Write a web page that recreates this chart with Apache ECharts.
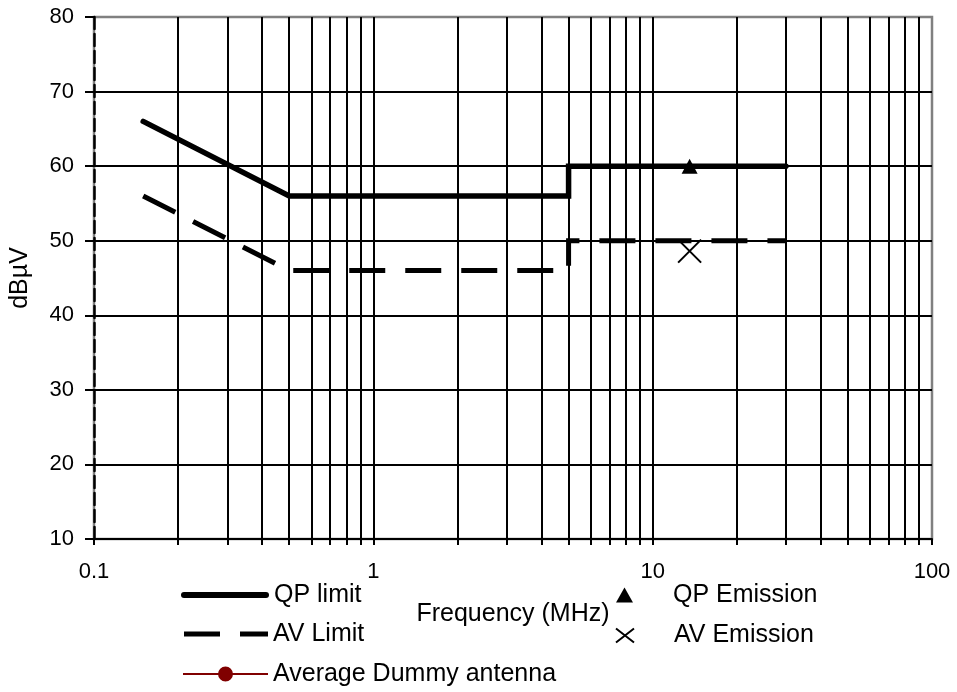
<!DOCTYPE html>
<html>
<head>
<meta charset="utf-8">
<script src="https://cdn.jsdelivr.net/npm/echarts@6/dist/echarts.min.js"></script>
<style>
html,body{margin:0;padding:0;background:#fff;}
#c{width:957px;height:692px;}
</style>
</head>
<body>
<div id="c"></div>
<script>
// ---- data ----
const freqRange = [0.1, 100];
const levelTicks = [10, 20, 30, 40, 50, 60, 70, 80];
const qpLimitFreq = [0.15, 0.5, 5, 5, 30];
const qpLimitLevel = [66, 56, 56, 60, 60];
const avLimitFreq = [0.15, 0.5, 5, 5, 30];
const avLimitLevel = [56, 46, 46, 50, 50];
const qpEmissionFreq = [13.56];
const qpEmissionLevel = [60];
const avEmissionFreq = [13.56];
const avEmissionLevel = [48.6];
const dummyFreq = [];
const dummyLevel = [];

const zip = (xs, ys) => xs.map((x, i) => [x, ys[i]]);
const FONT = 'Liberation Sans, Arial, sans-serif';
const txt = { fontSize: 25, color: '#000', fontFamily: FONT };

const chart = echarts.init(document.getElementById('c'), null, { renderer: 'canvas' });
const legendBase = {
  orient: 'horizontal', padding: 0, selectedMode: false,
  textStyle: txt, itemStyle: { borderWidth: 0, opacity: 1 }
};
chart.setOption({
  animation: false,
  backgroundColor: '#fff',
  grid: { left: 93, right: 25, top: 17, bottom: 153, show: true,
          borderColor: '#808080', borderWidth: 2.5, backgroundColor: 'transparent' },
  xAxis: {
    type: 'log', logBase: 10, min: freqRange[0], max: freqRange[1],
    name: 'Frequency (MHz)', nameLocation: 'middle', nameGap: 63,
    nameTextStyle: txt,
    axisLine: { show: true, lineStyle: { color: '#000', width: 2 } },
    axisTick: { show: true, inside: false, length: 6, lineStyle: { color: '#000', width: 2 } },
    minorTick: { show: true, splitNumber: 9, length: 6, lineStyle: { color: '#000', width: 2 } },
    splitLine: { show: true, showMinLine: false, showMaxLine: false, lineStyle: { color: '#000', width: 2 } },
    minorSplitLine: { show: true, lineStyle: { color: '#000', width: 2 } },
    axisLabel: { margin: 22, fontSize: 22, color: '#000', fontFamily: FONT }
  },
  yAxis: {
    type: 'value', min: levelTicks[0], max: levelTicks[levelTicks.length - 1], interval: 10,
    name: 'dBµV', nameLocation: 'middle', nameGap: 61,
    nameTextStyle: txt,
    axisLine: { show: true, lineStyle: { color: '#000', width: 2.5, type: [12, 5] } },
    axisTick: { show: true, inside: false, length: 9, lineStyle: { color: '#000', width: 2 } },
    splitLine: { show: true, showMinLine: false, showMaxLine: false, lineStyle: { color: '#000', width: 2 } },
    axisLabel: { margin: 20, fontSize: 22, color: '#000', fontFamily: FONT }
  },
  legend: [
    Object.assign({}, legendBase, { left: 181, top: 582.5, itemWidth: 88, itemHeight: 6,
      data: [{ name: 'QP limit', icon: 'path://M3,0H85A3,3 0 0 1 85,6H3A3,3 0 0 1 3,0Z' }] }),
    Object.assign({}, legendBase, { left: 184, top: 621.5, itemWidth: 84, itemHeight: 5,
      data: [{ name: 'AV Limit', icon: 'path://M0,0H36V5H0ZM56,0H84V5H56Z' }] }),
    Object.assign({}, legendBase, { left: 183, top: 661.5, itemWidth: 85, itemHeight: 15,
      data: [{ name: 'Average Dummy antenna', icon: 'path://M0,7H85V9H0ZM35,8A7.5,7.5 0 1 1 50,8A7.5,7.5 0 1 1 35,8Z' }] }),
    Object.assign({}, legendBase, { left: 616, top: 582.5, itemWidth: 17, itemHeight: 15, symbolKeepAspect: false,
      data: [{ name: 'QP Emission', icon: 'triangle' }],
      textStyle: Object.assign({}, txt, { padding: [0, 0, 0, 35] }) }),
    Object.assign({}, legendBase, { left: 615, top: 623, itemWidth: 18, itemHeight: 14, symbolKeepAspect: false,
      itemStyle: { borderWidth: 2, borderColor: '#000', opacity: 1 },
      data: ['AV Emission'],
      textStyle: Object.assign({}, txt, { padding: [0, 0, 0, 35] }) })
  ],
  series: [
    {
      name: 'QP limit', type: 'line', data: zip(qpLimitFreq, qpLimitLevel),
      symbol: 'none', z: 5,
      lineStyle: { color: '#000', width: 5.5, cap: 'round', join: 'miter' },
      itemStyle: { color: '#000' }
    },
    {
      name: 'AV Limit', type: 'line', data: zip(avLimitFreq, avLimitLevel),
      symbol: 'none', z: 5,
      lineStyle: { color: '#000', width: 5, type: [36, 20], cap: 'butt', join: 'miter' },
      itemStyle: { color: '#000' }
    },
    {
      name: 'Average Dummy antenna', type: 'line', data: zip(dummyFreq, dummyLevel),
      symbol: 'circle', symbolSize: 15, z: 5,
      lineStyle: { color: '#800000', width: 2 },
      itemStyle: { color: '#800000' }
    },
    {
      name: 'QP Emission', type: 'scatter', data: zip(qpEmissionFreq, qpEmissionLevel),
      symbol: 'triangle', symbolSize: [16, 15], z: 6,
      itemStyle: { color: '#000', opacity: 1 }
    },
    {
      name: 'AV Emission', type: 'scatter', data: zip(avEmissionFreq, avEmissionLevel),
      symbol: 'path://M0,0L10,10M10,0L0,10', symbolSize: 23, z: 6,
      itemStyle: { color: 'rgba(0,0,0,0)', borderColor: '#000', borderWidth: 2, opacity: 1 }
    }
  ]
});
</script>
</body>
</html>
